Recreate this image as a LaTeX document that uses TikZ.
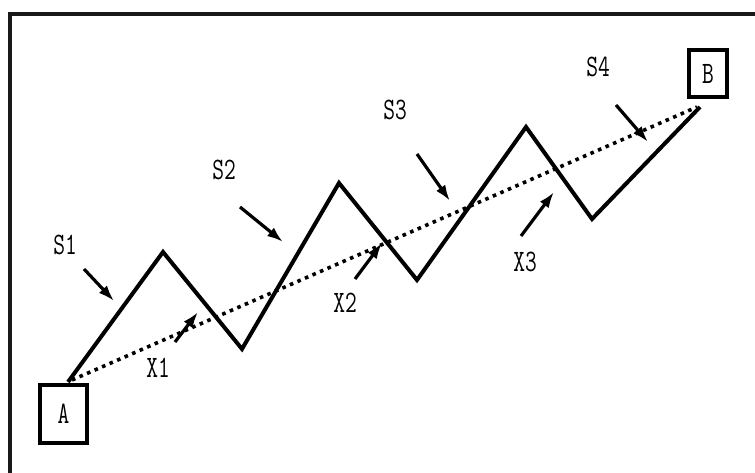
\documentclass[tikz,border=0pt]{standalone}
\usepackage{fontspec}
\usepackage{graphicx}
\usetikzlibrary{arrows.meta}
\newcommand{\tallt}[1]{\scalebox{0.95}[1.3]{#1}}
\begin{document}
\begin{tikzpicture}[x=1pt, y=1pt, font=\ttfamily\fontsize{24}{24}\selectfont,
      path/.style={line width=4pt, line join=miter},
      direct/.style={line width=3.6pt, dash pattern=on 3.6pt off 4.6pt},
      force/.style={line width=3.2pt, -{Latex[length=16pt, width=11pt]}},
      endbox/.style={draw, line width=4pt, inner sep=0pt},
      lbl/.style={inner sep=0pt}]
    \useasboundingbox (0,0) rectangle (755,473);
    \clip (0,0) rectangle (755,473);
    \draw[line width=4.5pt, black!90] (10,-20) rectangle (780,459);
    % end points
    \node[endbox, minimum width=47pt, minimum height=58pt] (A) at (63.5,59) {\tallt{A}};
    \node[endbox, minimum width=38pt, minimum height=47pt] (B) at (708,399.5) {\tallt{B}};
    % zigzag route
    \coordinate (z0) at (68,91);
    \coordinate (z1) at (163,221);
    \coordinate (z2) at (242,124);
    \coordinate (z3) at (339,290);
    \coordinate (z4) at (417,193);
    \coordinate (z5) at (526,346);
    \coordinate (z6) at (592,254);
    \coordinate (z7) at (700,366);
    \draw[path] (z0) -- (z1) -- (z2) -- (z3) -- (z4) -- (z5) -- (z6) -- (z7);
    % straight route
    \coordinate (d0) at (72,93);
    \coordinate (d1) at (697,366);
    \draw[direct] (d0) -- (d1);
    % labels
    \node[lbl] (s1) at (65,228) {\tallt{S1}};
    \node[lbl] (s2) at (224,303) {\tallt{S2}};
    \node[lbl] (s3) at (395,363) {\tallt{S3}};
    \node[lbl] (s4) at (598,406) {\tallt{S4}};
    \node[lbl] (x1) at (158,105) {\tallt{X1}};
    \node[lbl] (x2) at (345,170) {\tallt{X2}};
    \node[lbl] (x3) at (525,211) {\tallt{X3}};
    % arrows
    \foreach \n/\a/\b in {s1/{84,204}/{114,172}, s2/{240,266}/{283,231},
        s3/{417,319}/{450,272}, s4/{616,368}/{648,331},
        x1/{175,131}/{198,161}, x2/{355,194}/{382,230}, x3/{521,237}/{554,281}} {
      \coordinate (\n-from) at (\a);
      \coordinate (\n-to) at (\b);
      \draw[force] (\n-from) -- (\n-to);
    }
  \end{tikzpicture}
\end{document}
